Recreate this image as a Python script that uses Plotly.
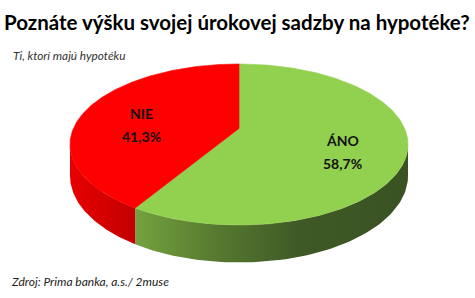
import numpy as np
import plotly.graph_objects as go

# ---- data ----
categories = ["ÁNO", "NIE"]
values = [58.7, 41.3]
value_labels = ["58,7%", "41,3%"]
title_text = "Poznáte výšku svojej úrokovej sadzby na hypotéke?"
subtitle_text = "Ti, ktorí majú hypotéku"
source_text = "Zdroj: Prima banka, a.s./ 2muse"

# ---- styling / geometry (pixel-like coordinates) ----
W, H = 475, 298
cx, cy0 = 239.0, 128.4
A, B = 165.6, 77.3
k = 0.2          # perspective strength
h = 30.0         # thickness
top_colors = {"ÁNO": "#92D050", "NIE": "#FF0000"}
side_scales = {
    "ÁNO": [[0, "#74A23F"], [0.3, "#56792F"], [0.6, "#3F5926"], [1, "#3A5222"]],
    "NIE": [[0, "#E80000"], [1, "#C20000"]],
}
FONT = "Lato, Open Sans, sans-serif"

def proj(phi_deg, r=1.0, dz=0.0):
    phi = np.radians(phi_deg)
    X = r * np.sin(phi)
    Y = -r * np.cos(phi)
    f = 1.0 / (1.0 - k * Y)
    x = cx + A * X * f
    y = cy0 + B * Y * f + dz * f
    return x, y

total = sum(values)
angles = []
start = 0.0
for v in values:
    sweep = v / total * 360.0
    angles.append((start, start + sweep))
    start += sweep

vis_lo = np.degrees(np.arccos(-k))
vis_hi = 360.0 - vis_lo

fig = go.Figure()

# side faces
for cat, (a0, a1) in zip(categories, angles):
    lo, hi = max(a0, vis_lo), min(a1, vis_hi)
    if hi <= lo:
        continue
    ph = np.linspace(lo, hi, 80)
    xt, yt = proj(ph)
    xb, yb = proj(ph[::-1], dz=h)
    xs = np.concatenate([xt, xb, xt[:1]])
    ys = np.concatenate([yt, yb, yt[:1]])
    fig.add_trace(go.Scatter(
        x=xs, y=ys, mode="lines", fill="toself",
        line=dict(width=0),
        fillgradient=dict(type="horizontal", colorscale=side_scales[cat]),
        hoverinfo="skip", showlegend=False))

# top faces
for cat, (a0, a1) in zip(categories, angles):
    ph = np.linspace(a0, a1, 200)
    xa, ya = proj(ph)
    xc, yc = proj(0.0, r=0.0)
    xs = np.concatenate([[xc], xa, [xc]])
    ys = np.concatenate([[yc], ya, [yc]])
    fig.add_trace(go.Scatter(
        x=xs, y=ys, mode="lines", fill="toself",
        line=dict(width=0.6, color=top_colors[cat]),
        fillcolor=top_colors[cat],
        hoverinfo="skip", showlegend=False))

# labels
for cat, lab, (a0, a1) in zip(categories, value_labels, angles):
    mid = (a0 + a1) / 2
    lx, ly = proj(mid, r=0.63)
    for txt, dy in ((cat, -2), (lab, 21)):
        fig.add_annotation(
            x=float(lx), y=float(ly) + dy, text=f"<b>{txt}</b>",
            showarrow=False, xanchor="center", yanchor="middle",
            font=dict(family=FONT, size=14, color="#111111"))

fig.add_annotation(x=237, y=22, text=f"<b>{title_text}</b>", showarrow=False,
                   xanchor="center", yanchor="middle",
                   font=dict(family=FONT, size=20.5, color="#000000"))
fig.add_annotation(x=11, y=55, text=f"<i>{subtitle_text}</i>", showarrow=False,
                   xanchor="left", yanchor="middle",
                   font=dict(family=FONT, size=11.8, color="#333333"))
fig.add_annotation(x=9, y=281, text=f"<i>{source_text}</i>", showarrow=False,
                   xanchor="left", yanchor="middle",
                   font=dict(family=FONT, size=12, color="#222222"))

fig.update_layout(
    width=W, height=H, margin=dict(l=0, r=0, t=0, b=0),
    paper_bgcolor="white", plot_bgcolor="white",
    xaxis=dict(range=[0, W], visible=False, fixedrange=True),
    yaxis=dict(range=[H, 0], visible=False, fixedrange=True),
)
fig.write_html("out.html")
